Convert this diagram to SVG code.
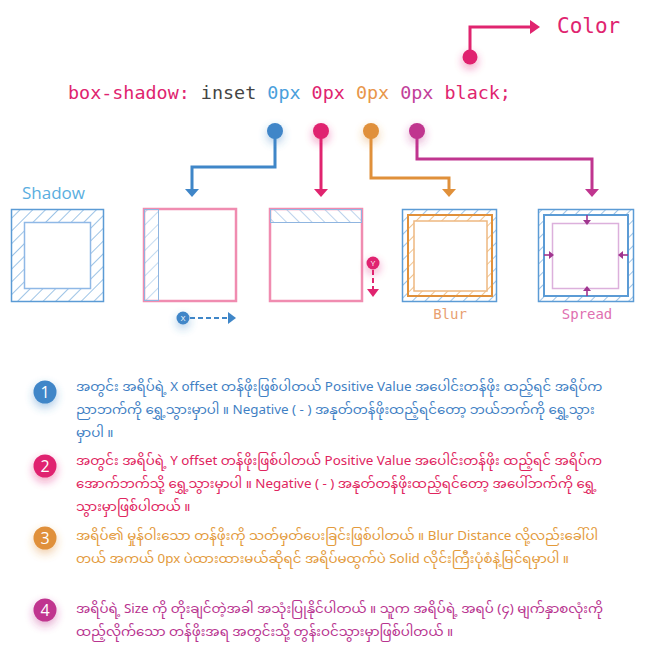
<svg xmlns="http://www.w3.org/2000/svg" width="656" height="647" viewBox="0 0 656 647">
<style>
.mono{font-family:"DejaVu Sans Mono","Liberation Mono",monospace}
.sans{font-family:"Open Sans","Noto Sans","DejaVu Sans",sans-serif}
.mm{font-family:"Noto Sans Myanmar","Padauk","Myanmar Text","Noto Sans","DejaVu Sans",sans-serif;font-size:13.4px}
.conn{fill:none;stroke-width:3;stroke-linejoin:miter}
.pinkBox{fill:#fff;stroke:#f08cb0;stroke-width:2.5}
</style>
<defs>
<filter id="glow" x="-150%" y="-150%" width="400%" height="400%">
<feGaussianBlur in="SourceGraphic" stdDeviation="5" result="b"/>
<feOffset in="b" dy="4" result="o"/>
<feComponentTransfer in="o" result="c"><feFuncA type="linear" slope="0.45"/></feComponentTransfer>
<feMerge><feMergeNode in="c"/><feMergeNode in="SourceGraphic"/></feMerge>
</filter>
<pattern id="hB" width="9" height="9" patternUnits="userSpaceOnUse" patternTransform="rotate(45)"><line x1="0" y1="0" x2="0" y2="9" stroke="#5b9bd5" stroke-width="1.2"/></pattern>
<pattern id="hB2" width="9" height="9" patternUnits="userSpaceOnUse" patternTransform="rotate(-45)"><line x1="0" y1="0" x2="0" y2="9" stroke="#8fb5e0" stroke-width="1.2"/></pattern>
<pattern id="hO" width="9" height="9" patternUnits="userSpaceOnUse" patternTransform="rotate(45)"><line x1="0" y1="0" x2="0" y2="9" stroke="#e59a45" stroke-width="1.2"/></pattern>
</defs>

<g id="color-label">
<path d="M470 57 V27 H531" class="conn" stroke="#e0246f"/>
<polygon points="530,20 540,27 530,34" fill="#e0246f"/>
<circle cx="470" cy="57" r="7.5" fill="#e0246f" filter="url(#glow)"/>
<text x="557" y="33" class="mono" font-size="21" fill="#e0246f">Color</text>
</g>

<g id="code">
<text x="68" y="99" class="mono" font-size="18.4"><tspan fill="#e0246f">box-shadow:</tspan><tspan fill="#444"> inset </tspan><tspan fill="#4aa0dc">0px</tspan><tspan fill="#e0246f"> 0px</tspan><tspan fill="#e8964a"> 0px</tspan><tspan fill="#c2409a"> 0px</tspan><tspan fill="#e0246f"> black;</tspan></text>
</g>

<g id="connectors">
<path d="M275 131 V167 H192 V190" class="conn" stroke="#3f86c8"/>
<polygon points="185,189 199,189 192,197" fill="#3f86c8"/>
<path d="M321 131 V190" class="conn" stroke="#e0246f"/>
<polygon points="314,189 328,189 321,197" fill="#e0246f"/>
<path d="M371 131 V178 H449 V190" class="conn" stroke="#e0903a"/>
<polygon points="442,189 456,189 449,197" fill="#e0903a"/>
<path d="M417 131 V159 H592 V190" class="conn" stroke="#c0358f"/>
<polygon points="585,189 599,189 592,197" fill="#c0358f"/>
</g>

<g id="dots">
<circle cx="275" cy="131" r="8" fill="#3f86c8" filter="url(#glow)"/>
<circle cx="321" cy="131" r="8" fill="#e0246f" filter="url(#glow)"/>
<circle cx="371" cy="131" r="8" fill="#e0903a" filter="url(#glow)"/>
<circle cx="417" cy="131" r="8" fill="#c0358f" filter="url(#glow)"/>
</g>

<g id="shadow-box">
<text x="22" y="199" class="sans" font-size="17" fill="#5aaee0">Shadow</text>
<rect x="11.5" y="209.5" width="92" height="92" fill="url(#hB)" stroke="#5b9bd5" stroke-width="1.5"/>
<rect x="24.5" y="222.5" width="66" height="66" fill="#fff" stroke="#8fb8e6" stroke-width="1.5"/>
</g>

<g id="x-offset-box">
<rect x="144" y="209" width="92" height="92" class="pinkBox"/>
<rect x="144.5" y="209.5" width="14" height="91" fill="url(#hB)" stroke="#8fb5e0" stroke-width="1" fill-opacity="0.6"/>
<line x1="190" y1="318" x2="228" y2="318" stroke="#3f86c8" stroke-width="2" stroke-dasharray="5 3"/>
<polygon points="228,312 236,318 228,324" fill="#3f86c8"/>
<circle cx="183" cy="318" r="6.5" fill="#3f86c8" filter="url(#glow)"/>
<text x="183" y="321" class="sans" font-size="8" fill="#fff" text-anchor="middle">X</text>
</g>

<g id="y-offset-box">
<rect x="270" y="209" width="92" height="92" class="pinkBox"/>
<rect x="270.5" y="209.5" width="91" height="13" fill="url(#hB2)" stroke="#8fb5e0" stroke-width="1"/>
<line x1="373" y1="270" x2="373" y2="290" stroke="#e0246f" stroke-width="2" stroke-dasharray="5 3"/>
<polygon points="367,289 379,289 373,297" fill="#e0246f"/>
<circle cx="373" cy="263" r="6.5" fill="#e0246f" filter="url(#glow)"/>
<text x="373" y="266" class="sans" font-size="8" fill="#fff" text-anchor="middle">Y</text>
</g>

<g id="blur-box">
<rect x="402.5" y="209.5" width="94" height="92" fill="url(#hB)" stroke="#5b9bd5" stroke-width="1.5"/>
<rect x="408" y="215" width="84" height="81" fill="#fff" stroke="#e0903a" stroke-width="2"/>
<rect x="408" y="215" width="84" height="81" fill="url(#hO)"/>
<rect x="414" y="221" width="73" height="70" fill="#fff" stroke="#eeb880" stroke-width="1.5"/>
<text x="450" y="319" class="mono" font-size="14" fill="#e8a070" text-anchor="middle">Blur</text>
</g>

<g id="spread-box">
<rect x="538.5" y="209.5" width="95" height="92" fill="url(#hB)" stroke="#5b9bd5" stroke-width="1.5"/>
<rect x="544" y="215" width="84" height="81" fill="#fff" stroke="#5b9bd5" stroke-width="2"/>
<rect x="552.5" y="223.5" width="66" height="65" fill="none" stroke="#dcb0dc" stroke-width="1.5"/>
<g fill="#a0358f" stroke="#a0358f" stroke-width="1.6">
<line x1="587" y1="215" x2="587" y2="221"/><polygon points="583,220 591,220 587,225" stroke="none"/>
<line x1="587" y1="296" x2="587" y2="290"/><polygon points="583,291 591,291 587,286" stroke="none"/>
<line x1="544" y1="255" x2="550" y2="255"/><polygon points="549,251 549,259 554,255" stroke="none"/>
<line x1="628" y1="255" x2="622" y2="255"/><polygon points="623,251 623,259 618,255" stroke="none"/>
</g>
<text x="587" y="319" class="mono" font-size="14" fill="#e070b0" text-anchor="middle">Spread</text>
</g>

<g id="note-1">
<circle cx="45" cy="392" r="11.5" fill="#3f86c8" filter="url(#glow)"/>
<text x="45" y="398" class="sans" font-size="16" fill="#fff" text-anchor="middle">1</text>
<text class="mm" fill="#3f7fc4"><tspan x="76" y="391">အတွင်း အရိပ်ရဲ့ X offset တန်ဖိုးဖြစ်ပါတယ် Positive Value အပေါင်းတန်ဖိုး ထည့်ရင် အရိပ်က</tspan><tspan x="76" y="414">ညာဘက်ကို ရွှေ့သွားမှာပါ ။ Negative ( - ) အနုတ်တန်ဖိုးထည့်ရင်တော့ ဘယ်ဘက်ကို ရွှေ့သွား</tspan><tspan x="76" y="437">မှာပါ ။</tspan></text>
</g>
<g id="note-2">
<circle cx="45" cy="466" r="11.5" fill="#e0246f" filter="url(#glow)"/>
<text x="45" y="472" class="sans" font-size="16" fill="#fff" text-anchor="middle">2</text>
<text class="mm" fill="#e0245e"><tspan x="76" y="465">အတွင်း အရိပ်ရဲ့ Y offset တန်ဖိုးဖြစ်ပါတယ် Positive Value အပေါင်းတန်ဖိုး ထည့်ရင် အရိပ်က</tspan><tspan x="76" y="488">အောက်ဘက်သို့ ရွှေ့သွားမှာပါ ။ Negative ( - ) အနုတ်တန်ဖိုးထည့်ရင်တော့ အပေါ်ဘက်ကို ရွှေ့</tspan><tspan x="76" y="511">သွားမှာဖြစ်ပါတယ် ။</tspan></text>
</g>
<g id="note-3">
<circle cx="45" cy="538" r="11.5" fill="#e0903a" filter="url(#glow)"/>
<text x="45" y="544" class="sans" font-size="16" fill="#fff" text-anchor="middle">3</text>
<text class="mm" fill="#e39a3b"><tspan x="76" y="540">အရိပ်၏ မှုန်ဝါးသော တန်ဖိုးကို သတ်မှတ်ပေးခြင်းဖြစ်ပါတယ် ။ Blur Distance လို့လည်းခေါ်ပါ</tspan><tspan x="76" y="563">တယ် အကယ် 0px ပဲထားထားမယ်ဆိုရင် အရိပ်မထွက်ပဲ Solid လိုင်းကြီးပုံစံနဲ့မြင်ရမှာပါ ။</tspan></text>
</g>
<g id="note-4">
<circle cx="45" cy="610" r="11.5" fill="#c0358f" filter="url(#glow)"/>
<text x="45" y="616" class="sans" font-size="16" fill="#fff" text-anchor="middle">4</text>
<text class="mm" fill="#b8338f"><tspan x="76" y="613">အရိပ်ရဲ့ Size ကို တိုးချင်တဲ့အခါ အသုံးပြုနိုင်ပါတယ် ။ သူက အရိပ်ရဲ့ အရပ် (၄) မျက်နှာစလုံးကို</tspan><tspan x="76" y="636">ထည့်လိုက်သော တန်ဖိုးအရ အတွင်းသို့ တွန်းဝင်သွားမှာဖြစ်ပါတယ် ။</tspan></text>
</g>
</svg>
